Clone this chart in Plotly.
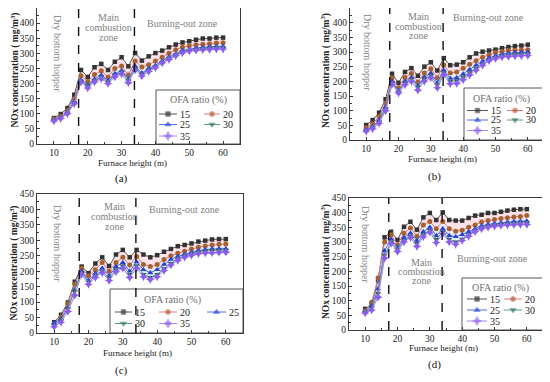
import plotly.graph_objects as go

# page body adds an 8px margin, so the figure is drawn 8px in from the window corner
OFF = 8
W, H = 550 - OFF, 382 - OFF

# ---------------- data ----------------
furnace_height = list(range(10, 62, 2))
ofa_ratios = ["15", "20", "25", "30", "35"]
zone_bounds = [17.3, 33.8]

a_ofa15 = [86, 99, 119, 163, 245, 222, 254, 265, 245, 272, 287, 257, 301, 276, 290, 301, 309, 320, 329, 336, 340, 345, 349, 349, 352, 352]
a_ofa20 = [83, 92, 110, 150, 226, 207, 230, 242, 222, 250, 258, 228, 275, 255, 262, 275, 287, 300, 312, 320, 325, 328, 330, 332, 334, 335]
a_ofa25 = [80, 88, 105, 140, 212, 195, 215, 228, 210, 233, 243, 215, 258, 235, 250, 260, 275, 288, 298, 310, 313, 318, 320, 322, 323, 323]
a_ofa30 = [78, 86, 102, 137, 208, 192, 210, 222, 205, 228, 238, 210, 250, 230, 245, 255, 270, 283, 295, 305, 310, 313, 316, 317, 318, 318]
a_ofa35 = [76, 84, 100, 133, 205, 185, 205, 216, 200, 222, 232, 203, 245, 225, 240, 252, 268, 280, 292, 302, 308, 310, 312, 313, 314, 314]

b_ofa15 = [51, 68, 93, 139, 226, 195, 232, 245, 219, 250, 265, 237, 279, 255, 257, 265, 282, 295, 301, 305, 308, 313, 317, 320, 322, 325]
b_ofa20 = [42, 55, 80, 125, 212, 178, 213, 227, 198, 228, 243, 212, 256, 228, 232, 245, 258, 270, 282, 290, 298, 302, 305, 306, 307, 308]
b_ofa25 = [35, 45, 68, 112, 200, 168, 200, 213, 185, 215, 228, 195, 238, 210, 212, 225, 240, 255, 268, 280, 287, 293, 296, 298, 299, 300]
b_ofa30 = [33, 42, 62, 105, 195, 165, 195, 208, 180, 208, 220, 188, 230, 200, 202, 215, 230, 245, 258, 272, 282, 288, 290, 292, 293, 294]
b_ofa35 = [30, 38, 57, 100, 190, 160, 188, 200, 170, 200, 212, 178, 222, 192, 193, 205, 222, 238, 255, 270, 278, 283, 285, 286, 287, 288]

c_ofa15 = [35, 59, 99, 166, 215, 194, 225, 245, 217, 254, 269, 245, 269, 254, 245, 252, 263, 272, 281, 285, 290, 296, 299, 303, 304, 304]
c_ofa20 = [30, 52, 95, 158, 210, 185, 205, 228, 200, 228, 245, 220, 248, 222, 215, 222, 238, 250, 258, 265, 272, 278, 282, 285, 287, 288]
c_ofa25 = [33, 45, 82, 140, 200, 170, 193, 210, 185, 215, 228, 200, 230, 205, 195, 205, 222, 238, 248, 255, 262, 267, 270, 272, 273, 273]
c_ofa30 = [25, 42, 80, 135, 195, 165, 185, 200, 178, 205, 218, 190, 218, 190, 180, 190, 208, 225, 240, 250, 257, 262, 265, 267, 268, 268]
c_ofa35 = [20, 35, 70, 122, 190, 158, 180, 195, 170, 198, 210, 180, 210, 182, 173, 182, 202, 220, 235, 245, 252, 257, 259, 260, 261, 262]

d_ofa15 = [72, 86, 168, 316, 335, 307, 352, 369, 342, 384, 399, 375, 401, 375, 373, 373, 382, 390, 393, 399, 399, 403, 407, 410, 412, 412]
d_ofa20 = [65, 95, 178, 300, 325, 290, 330, 348, 320, 358, 370, 345, 370, 345, 337, 340, 350, 358, 368, 373, 377, 380, 383, 385, 387, 390]
d_ofa25 = [62, 82, 140, 270, 310, 280, 315, 330, 305, 335, 350, 322, 345, 322, 318, 325, 335, 345, 355, 360, 363, 366, 368, 370, 371, 372]
d_ofa30 = [60, 75, 125, 255, 300, 275, 305, 320, 295, 325, 340, 310, 335, 310, 300, 310, 325, 338, 348, 354, 358, 360, 362, 364, 365, 366]
d_ofa35 = [58, 68, 112, 245, 295, 268, 300, 315, 285, 318, 333, 298, 328, 300, 292, 305, 320, 335, 345, 350, 354, 356, 358, 359, 360, 360]

x_ticks = [10, 20, 30, 40, 50, 60]
y_ticks = [0, 50, 100, 150, 200, 250, 300, 350, 400, 450]
x_range = [5, 65]
y_range = [0, 450]

# ---------------- styles ----------------
FONT = "Liberation Serif"
styles = {
    "15": dict(line="#555555", mk="#333333", sym="square", size=4.5, fill=None),
    "20": dict(line="#e07a7a", mk="#a8612e", sym="circle", size=5, fill="rgba(255,175,195,0.35)"),
    "25": dict(line="#4d6fe6", mk="#2a40d4", sym="triangle-up", size=5.5, fill="rgba(175,190,255,0.30)"),
    "30": dict(line="#5c9a88", mk="#2b6b52", sym="triangle-down", size=5.5, fill="rgba(175,220,225,0.30)"),
    "35": dict(line="#a586f2", mk="#8a5cf0", sym="star-diamond", size=6.5, fill="rgba(205,175,255,0.30)"),
}

# window pixel -> paper fraction
def px(x):
    return (x - OFF) / W

def py(y):
    return 1 - (y - OFF) / H

panels = [
    dict(key="a", box=(37, 240, 8, 144),
         series=[a_ofa15, a_ofa20, a_ofa25, a_ofa30, a_ofa35],
         ytitle=(14.5, 70), xtitle=(132, 162.5), label=(121, 178),
         hopper=(58, 53), main=(108, [18, 28, 37.5]), burn=(182, 23),
         leg_box=(156, 240, 90, 144), leg_title=(198, 100),
         leg_items={"15": (159, 177, 114), "20": (204, 220, 114), "25": (159, 177, 124.5),
                    "30": (204, 220, 124.5), "35": (159, 177, 136)}),
    dict(key="b", box=(350, 544, 8, 140),
         series=[b_ofa15, b_ofa20, b_ofa25, b_ofa30, b_ofa35],
         ytitle=(325, 71), xtitle=(442, 159), label=(434, 176),
         hopper=(368, 52), main=(418, [16.5, 26.5, 36]), burn=(488, 17.5),
         leg_box=(464, 544, 88, 140), leg_title=(501, 99),
         leg_items={"15": (467, 488, 110.5), "20": (507, 523, 110.5), "25": (467, 488, 120),
                    "30": (507, 523, 120), "35": (467, 488, 130.5)}),
    dict(key="c", box=(37, 243, 194, 333),
         series=[c_ofa15, c_ofa20, c_ofa25, c_ofa30, c_ofa35],
         ytitle=(14.5, 263), xtitle=(137, 353), label=(121, 370),
         hopper=(57, 243), main=(114, [206, 216.5, 226]), burn=(184, 209),
         leg_box=(110, 243, 289, 333), leg_title=(172, 300),
         leg_items={"15": (115, 132, 312), "20": (159, 177, 312), "25": (207, 226, 312),
                    "30": (115, 132, 323.5), "35": (159, 177, 323.5)}),
    dict(key="d", box=(349, 543, 198, 330),
         series=[d_ofa15, d_ofa20, d_ofa25, d_ofa30, d_ofa35],
         ytitle=(325, 262), xtitle=(443, 348), label=(434, 364.5),
         hopper=(366, 244), main=(421, [262, 271.5, 280.5]), burn=(492, 258),
         leg_box=(462, 543, 278, 330), leg_title=(500, 288),
         leg_items={"15": (467, 487, 299), "20": (504, 522, 299), "25": (467, 487, 310),
                    "30": (504, 522, 310), "35": (467, 487, 321)}),
]

fig = go.Figure()
annotations = []
shapes = []
legend_traces = []


def note(xp, yp, text, size=10, color="#222", angle=0, xanchor="center"):
    annotations.append(dict(xref="paper", yref="paper", x=px(xp), y=py(yp), showarrow=False,
                            xanchor=xanchor, yanchor="middle", text=text, textangle=angle,
                            borderpad=0, font=dict(family=FONT, size=size, color=color)))


for i, p in enumerate(panels):
    n = "" if i == 0 else str(i + 1)
    xa, ya = "x" + n, "y" + n
    l, r, t, b = p["box"]

    def to_dx(xp, l=l, r=r):
        return x_range[0] + (xp - l) / (r - l) * (x_range[1] - x_range[0])

    def to_dy(yp, t=t, b=b):
        return y_range[0] + (b - yp) / (b - t) * (y_range[1] - y_range[0])

    axis_common = dict(showline=True, mirror=True, linecolor="#3a3a3a", linewidth=1,
                       ticks="inside", ticklen=3, tickcolor="#3a3a3a", showgrid=False,
                       zeroline=False, automargin=False,
                       tickfont=dict(family=FONT, size=9.5, color="#222"))
    fig.layout["xaxis" + n] = dict(axis_common, domain=[px(l), px(r)], range=x_range,
                                   tickvals=x_ticks, anchor=ya,
                                   minor=dict(ticks="inside", ticklen=2, dtick=5, tick0=5, tickcolor="#3a3a3a"))
    fig.layout["yaxis" + n] = dict(axis_common, domain=[py(b), py(t)], range=y_range,
                                   tickvals=y_ticks, anchor=xa,
                                   minor=dict(ticks="inside", ticklen=2, dtick=25, tickcolor="#3a3a3a"))

    for name, vals in zip(ofa_ratios, p["series"]):
        s = styles[name]
        fig.add_trace(go.Scatter(
            x=furnace_height, y=vals, xaxis=xa, yaxis=ya, mode="lines+markers",
            line=dict(color=s["line"], width=1),
            marker=dict(symbol=s["sym"], size=s["size"], color=s["mk"]),
            fill="tonexty" if s["fill"] else None, fillcolor=s["fill"],
            showlegend=False, hoverinfo="skip"))

    # zone boundaries
    for zb in zone_bounds:
        shapes.append(dict(type="line", xref=xa, yref=ya + " domain", x0=zb, x1=zb, y0=0, y1=1,
                           line=dict(color="#111", width=1.4, dash="dash")))

    # axis titles / panel label
    yx, yy = p["ytitle"]
    note(yx, yy, "<b>NOx concentration ( mg/m<sup>3</sup>)</b>", size=9.5, angle=-90)
    tx, ty = p["xtitle"]
    note(tx, ty, "Furnace height (m)", size=9)
    lx, ly = p["label"]
    note(lx, ly, "(" + p["key"] + ")", size=11, color="#111")

    # zone labels
    hx, hy = p["hopper"]
    note(hx, hy, "Dry bottom hopper", size=10, color="#808080", angle=90)
    mx, mys = p["main"]
    for word, my in zip(["Main", "combustion", "zone"], mys):
        note(mx, my, word, size=10, color="#808080")
    bx, by = p["burn"]
    note(bx, by, "Burning-out zone", size=10, color="#808080")

    # legend box
    bl, br, bt, bb = p["leg_box"]
    shapes.append(dict(type="rect", xref="paper", yref="paper", x0=px(bl), x1=px(br),
                       y0=py(bb), y1=py(bt), line=dict(color="#555", width=1), layer="below"))
    ltx, lty = p["leg_title"]
    note(ltx, lty, "OFA ratio (%)", size=10, color="#707070")
    for name in ofa_ratios:
        s = styles[name]
        x0, x1, yy_ = p["leg_items"][name]
        xm = (x0 + x1) / 2
        legend_traces.append(go.Scatter(
            x=[to_dx(x0), to_dx(xm), to_dx(x1)], y=[to_dy(yy_)] * 3, xaxis=xa, yaxis=ya,
            mode="lines+markers", line=dict(color=s["line"], width=1),
            marker=dict(symbol=s["sym"], size=[0, s["size"], 0], color=s["mk"]),
            showlegend=False, hoverinfo="skip", cliponaxis=False))
        note(x1 + 2, yy_, name, size=10, color="#222", xanchor="left")

for tr in legend_traces:
    fig.add_trace(tr)

fig.update_layout(template="none", width=W, height=H,
                  margin=dict(l=0, r=0, t=0, b=0, autoexpand=False),
                  paper_bgcolor="white", plot_bgcolor="white",
                  showlegend=False, annotations=annotations, shapes=shapes,
                  font=dict(family=FONT))

fig.write_html("out.html")
